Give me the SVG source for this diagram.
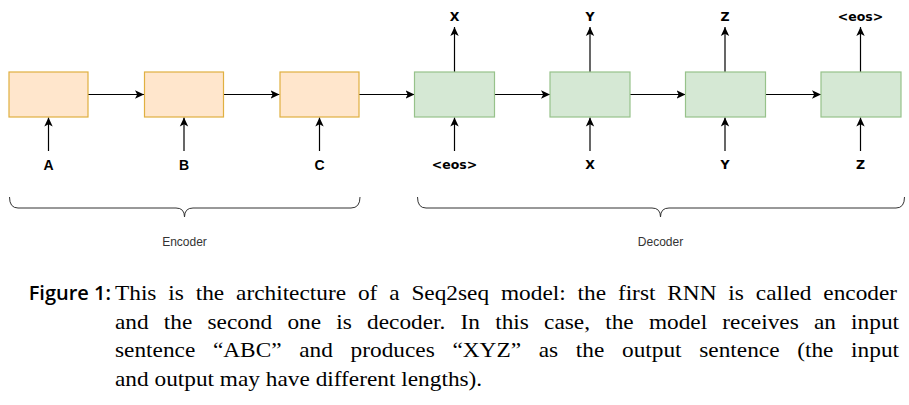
<svg xmlns="http://www.w3.org/2000/svg" width="909" height="405" viewBox="0 0 909 405">
<style>
.enc{fill:#ffe6cc;stroke:#e0b040;stroke-width:1.2}
.dec{fill:#d5e8d4;stroke:#97c28a;stroke-width:1.2}
.ln{stroke:#000;stroke-width:1.2;fill:none}
.br{stroke:#333;stroke-width:1;fill:none}
.lab{font-family:"Liberation Sans",Arial,sans-serif;font-weight:bold;font-size:14px;text-anchor:middle;fill:#000}
.dl{font-family:"DejaVu Sans",Verdana,sans-serif;font-weight:bold;font-size:12.5px;text-anchor:middle;fill:#000}
.bl{font-family:"Liberation Sans",Arial,sans-serif;font-size:12px;text-anchor:middle;fill:#333}
.fig{font-family:"Open Sans","Noto Sans",sans-serif;font-weight:600;font-size:20px;fill:#000;text-anchor:end}
.cap{font-family:"Liberation Serif","Times New Roman",serif;font-size:22px;fill:#000}
</style>
<defs>
<marker id="ah" markerWidth="10" markerHeight="10" refX="9" refY="5" orient="auto" markerUnits="userSpaceOnUse">
<path d="M0,0.8 L9,5 L0,9.2 L2.2,5 Z" fill="#000"/>
</marker>
</defs>
<g id="connectors">
<line class="ln" x1="88" y1="94.5" x2="144" y2="94.5" marker-end="url(#ah)"/>
<line class="ln" x1="223.5" y1="94.5" x2="279.5" y2="94.5" marker-end="url(#ah)"/>
<line class="ln" x1="359" y1="94.5" x2="414.5" y2="94.5" marker-end="url(#ah)"/>
<line class="ln" x1="494.5" y1="94.5" x2="550" y2="94.5" marker-end="url(#ah)"/>
<line class="ln" x1="630" y1="94.5" x2="685.5" y2="94.5" marker-end="url(#ah)"/>
<line class="ln" x1="765.5" y1="94.5" x2="821" y2="94.5" marker-end="url(#ah)"/>
<line class="ln" x1="48.5" y1="151" x2="48.5" y2="117.5" marker-end="url(#ah)"/>
<line class="ln" x1="184" y1="151" x2="184" y2="117.5" marker-end="url(#ah)"/>
<line class="ln" x1="319.5" y1="151" x2="319.5" y2="117.5" marker-end="url(#ah)"/>
<line class="ln" x1="454.5" y1="151" x2="454.5" y2="117.5" marker-end="url(#ah)"/>
<line class="ln" x1="590" y1="151" x2="590" y2="117.5" marker-end="url(#ah)"/>
<line class="ln" x1="725" y1="151" x2="725" y2="117.5" marker-end="url(#ah)"/>
<line class="ln" x1="860.5" y1="151" x2="860.5" y2="117.5" marker-end="url(#ah)"/>
<line class="ln" x1="454.5" y1="72" x2="454.5" y2="27" marker-end="url(#ah)"/>
<line class="ln" x1="590" y1="72" x2="590" y2="27" marker-end="url(#ah)"/>
<line class="ln" x1="725" y1="72" x2="725" y2="27" marker-end="url(#ah)"/>
<line class="ln" x1="860.5" y1="72" x2="860.5" y2="27" marker-end="url(#ah)"/>
</g>
<g id="enc1"><rect class="enc" x="9" y="72" width="79" height="45"/><text class="lab" x="48.5" y="169.5">A</text></g>
<g id="enc2"><rect class="enc" x="144.5" y="72" width="79" height="45"/><text class="lab" x="184" y="169.5">B</text></g>
<g id="enc3"><rect class="enc" x="280" y="72" width="79" height="45"/><text class="lab" x="319.5" y="169.5">C</text></g>
<g id="dec1"><rect class="dec" x="414.5" y="72" width="80" height="45"/><text class="dl" x="454.5" y="168.5">&lt;eos&gt;</text><text class="dl" x="454.5" y="21">X</text></g>
<g id="dec2"><rect class="dec" x="550" y="72" width="80" height="45"/><text class="dl" x="590" y="168.5">X</text><text class="dl" x="590" y="21">Y</text></g>
<g id="dec3"><rect class="dec" x="685.5" y="72" width="80" height="45"/><text class="dl" x="725" y="168.5">Y</text><text class="dl" x="725" y="21">Z</text></g>
<g id="dec4"><rect class="dec" x="821" y="72" width="80" height="45"/><text class="dl" x="860.5" y="168.5">Z</text><text class="dl" x="860.5" y="21">&lt;eos&gt;</text></g>
<g id="encoder-brace">
<path class="br" d="M9.5,197 Q9.5,208 18,208 H176 Q184.5,208 184.5,217 Q184.5,208 193,208 H351 Q360,208 360,197"/>
<text class="bl" x="184.5" y="246">Encoder</text>
</g>
<g id="decoder-brace">
<path class="br" d="M417.5,197 Q417.5,208 426,208 H652 Q660.5,208 660.5,217 Q660.5,208 669,208 H896 Q904.5,208 904.5,197"/>
<text class="bl" x="660.5" y="246">Decoder</text>
</g>
<g id="caption">
<text class="fig" x="111" y="300">Figure 1:</text>
<text class="cap" transform="translate(115,300) scale(1.06,1)" x="0" y="0" style="word-spacing:5.7px">This is the architecture of a Seq2seq model: the first RNN is called encoder</text>
<text class="cap" transform="translate(115,329) scale(1.06,1)" x="0" y="0" style="word-spacing:8.85px">and the second one is decoder. In this case, the model receives an input</text>
<text class="cap" transform="translate(115,357) scale(1.06,1)" x="0" y="0" style="word-spacing:11.2px">sentence “ABC” and produces “XYZ” as the output sentence (the input</text>
<text class="cap" transform="translate(115,386) scale(1.06,1)" x="0" y="0">and output may have different lengths).</text>
</g>
</svg>
